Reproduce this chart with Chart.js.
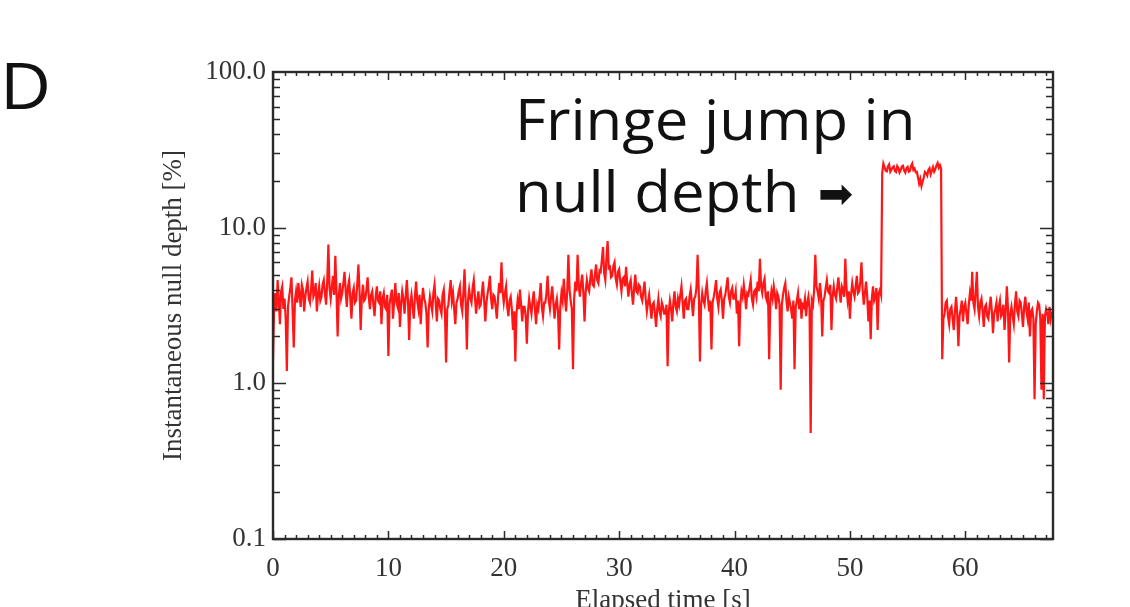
<!DOCTYPE html>
<html><head><meta charset="utf-8">
<script src="https://cdn.jsdelivr.net/npm/chart.js@4.4.1/dist/chart.umd.min.js"></script>
<style>
html,body{margin:0;padding:0;background:#fff;width:1130px;height:607px;overflow:hidden;}
#wrap{position:relative;width:1130px;height:607px;}
canvas{position:absolute;left:0;top:0;}
.lbl{position:absolute;font-family:"Open Sans",sans-serif;color:#111;line-height:1;white-space:nowrap;transform-origin:0 0;}
</style></head><body>
<div id="wrap">
<canvas id="c" width="1130" height="607"></canvas>
<div class="lbl" style="left:0px;top:53px;font-size:64px;transform:scaleX(1.1);">D</div>
<div class="lbl" style="left:515px;top:90px;font-size:56px;transform:scaleX(1.07);">Fringe jump in</div>
<div class="lbl" style="left:515px;top:162px;font-size:56px;transform:scaleX(1.07);">null depth</div>
<div class="lbl" style="left:818px;top:173px;font-size:42px;font-family:'DejaVu Sans';">➡</div>
</div>
<script>
// sampling interval of the trace (s)
const timeStep = 0.1;
// instantaneous null depth [%], one value per sample (20 samples = 2 s per row)
const nullDepth = [
 1.4, 3.2, 3.8, 2.9, 4.6, 3.4, 2.4, 3.9, 4.2, 3.0, 3.5, 2.6, 1.2, 3.1, 3.6, 4.1, 4.8, 2.9, 1.7, 3.4,
 3.9, 3.3, 4.4, 3.7, 3.1, 4.3, 4.0, 2.9, 3.6, 4.1, 4.5, 3.5, 3.3, 4.0, 5.3, 3.6, 3.8, 4.4, 2.9, 3.7,
 4.2, 3.4, 3.6, 4.3, 4.6, 3.8, 3.2, 4.5, 7.8, 4.1, 3.5, 4.2, 4.9, 3.7, 6.6, 4.0, 2.0, 3.6, 4.4, 3.5,
 3.8, 4.4, 5.2, 3.9, 3.1, 4.2, 4.6, 3.5, 2.6, 3.8, 4.1, 3.3, 3.4, 4.3, 5.8, 3.9, 2.2, 3.6, 4.3, 3.4,
 3.5, 4.0, 4.8, 3.6, 3.0, 3.7, 3.9, 3.2, 2.7, 3.6, 4.2, 3.4, 3.3, 3.9, 2.4, 3.5, 3.8, 3.1, 3.0, 3.7,
 1.5, 3.2, 3.6, 4.0, 2.6, 3.4, 4.4, 3.3, 3.1, 3.8, 2.3, 3.2, 3.9, 3.5, 2.8, 3.6, 4.6, 3.4, 1.9, 3.3,
 3.7, 3.1, 2.6, 3.6, 4.5, 3.4, 3.0, 3.7, 2.4, 3.3, 4.1, 3.5, 3.3, 2.8, 1.7, 3.0, 3.6, 3.2, 2.9, 3.8,
 4.3, 3.3, 2.5, 3.5, 3.4, 3.0, 2.8, 3.7, 4.0, 2.9, 1.36, 3.0, 3.2, 3.9, 4.6, 3.4, 3.8, 3.0, 2.4, 3.3,
 3.5, 3.9, 4.2, 3.2, 2.9, 3.8, 5.4, 3.3, 1.65, 3.4, 4.0, 3.5, 3.3, 4.1, 4.6, 3.6, 2.8, 3.4, 3.9, 3.1,
 3.2, 3.8, 4.5, 3.4, 2.5, 3.3, 3.8, 4.2, 4.9, 3.5, 3.0, 3.7, 3.6, 3.1, 2.6, 3.5, 4.4, 3.8, 6.0, 3.9,
 3.3, 3.8, 4.2, 3.1, 2.7, 3.4, 3.6, 3.0, 2.2, 2.9, 1.38, 2.8, 3.4, 3.0, 4.0, 3.2, 2.5, 3.1, 3.1, 2.7,
 1.8, 2.9, 3.5, 3.1, 2.8, 3.4, 3.9, 3.0, 2.4, 3.2, 3.0, 3.6, 4.4, 3.1, 2.7, 3.3, 3.3, 3.8, 4.9, 3.4,
 3.0, 3.6, 4.2, 3.3, 2.6, 3.2, 3.5, 2.9, 1.65, 3.1, 3.8, 3.4, 4.7, 3.6, 2.9, 3.9, 6.7, 4.0, 3.4, 3.0,
 1.23, 3.5, 4.5, 3.9, 6.7, 4.2, 3.6, 4.4, 5.0, 3.8, 2.5, 3.9, 4.6, 4.1, 3.9, 4.7, 5.4, 4.3, 4.2, 5.0,
 5.8, 4.6, 4.4, 5.3, 5.2, 6.2, 7.5, 5.1, 4.6, 6.4, 8.2, 5.5, 5.6, 4.8, 4.9, 5.7, 6.0, 4.7, 4.3, 5.2,
 5.4, 4.5, 3.9, 4.7, 4.8, 4.2, 5.6, 4.4, 3.6, 4.3, 4.6, 3.8, 3.2, 4.1, 5.0, 3.9, 3.8, 4.3, 4.2, 3.6,
 3.4, 3.9, 4.5, 3.5, 2.9, 3.3, 3.7, 3.1, 2.6, 3.2, 3.3, 2.8, 2.3, 3.0, 3.5, 2.9, 2.7, 3.3, 3.1, 2.8,
 2.8, 3.2, 1.29, 2.9, 3.4, 3.0, 2.5, 3.3, 3.9, 3.1, 2.9, 3.5, 3.2, 3.7, 4.2, 3.3, 2.6, 3.4, 3.5, 3.0,
 3.0, 3.6, 4.0, 3.3, 2.7, 3.5, 3.6, 4.1, 6.7, 3.9, 1.38, 3.2, 3.8, 3.4, 3.2, 3.9, 4.4, 3.5, 2.9, 3.4,
 1.65, 3.3, 3.6, 4.0, 4.6, 3.5, 3.1, 3.8, 4.0, 3.4, 2.6, 3.5, 3.7, 4.2, 4.8, 3.6, 3.3, 3.9, 4.1, 3.5,
 3.5, 3.9, 2.8, 3.4, 1.73, 3.2, 3.9, 3.6, 4.3, 3.7, 3.0, 3.8, 3.7, 4.1, 4.6, 3.5, 3.2, 3.9, 4.0, 3.6,
 4.5, 3.9, 6.3, 4.2, 3.8, 4.4, 4.7, 3.6, 3.4, 3.9, 1.43, 3.3, 3.9, 3.5, 4.2, 3.7, 3.0, 3.8, 3.6, 3.2,
 0.91, 3.2, 3.7, 4.1, 4.4, 3.4, 2.9, 3.6, 3.3, 3.0, 2.6, 3.4, 1.23, 3.1, 3.4, 3.8, 3.0, 3.5, 2.6, 3.2,
 3.1, 3.5, 2.7, 3.3, 3.6, 3.0, 0.48, 3.4, 3.2, 4.0, 6.7, 4.2, 3.9, 3.5, 4.4, 3.7, 2.0, 3.4, 3.6, 4.1,
 4.6, 3.9, 3.8, 4.3, 2.2, 3.6, 4.2, 3.7, 3.5, 4.1, 4.8, 3.9, 3.3, 4.2, 4.0, 3.6, 6.3, 4.1, 3.4, 3.9,
 2.6, 3.7, 4.4, 3.9, 3.6, 4.2, 4.9, 3.8, 3.9, 4.5, 6.0, 4.0, 3.2, 3.8, 4.5, 3.6, 2.5, 3.4, 1.92, 3.5,
 4.2, 3.4, 3.6, 4.1, 2.2, 3.8, 4.0, 3.7, 22.5, 25.8, 24.5, 23.2, 23.0, 24.8, 25.5, 22.9, 23.6, 24.4, 24.8, 23.1,
 22.8, 24.9, 24.2, 22.6, 23.4, 24.7, 25.0, 23.3, 22.6, 24.1, 24.6, 22.9, 23.2, 24.9, 25.8, 23.5, 24.0, 22.7, 22.8, 21.0,
 19.2, 20.5, 18.5, 19.8, 21.0, 22.8, 22.4, 21.6, 23.5, 24.1, 22.0, 23.2, 24.5, 22.9, 23.8, 25.1, 26.0, 24.3, 25.2, 24.0,
 1.43, 2.6, 2.8, 3.3, 3.4, 2.7, 2.4, 3.0, 3.1, 2.6, 2.2, 2.9, 3.6, 2.8, 1.73, 2.7, 3.0, 3.4, 2.5, 3.1,
 3.3, 2.8, 2.4, 3.2, 3.8, 3.4, 5.2, 3.3, 3.0, 3.9, 5.2, 3.1, 2.7, 3.3, 3.5, 2.9, 2.3, 3.1, 3.2, 2.7,
 2.6, 3.1, 3.6, 2.9, 2.1, 2.8, 3.0, 3.3, 2.5, 3.1, 3.4, 2.7, 2.8, 3.2, 2.2, 2.9, 4.2, 3.0, 1.36, 2.8,
 3.1, 2.7, 2.4, 3.2, 3.9, 2.9, 2.7, 3.4, 3.3, 2.8, 2.3, 3.1, 3.6, 2.9, 2.6, 3.3, 2.0, 2.9, 3.0, 2.6,
 0.79, 2.4, 2.9, 3.3, 3.2, 2.6, 0.91, 2.8, 0.79, 2.7, 3.0, 2.8, 2.4, 3.1, 2.6, 2.9
];
const xTickValues = [0, 10, 20, 30, 40, 50, 60];
const yTickValues = [0.1, 1, 10, 100];
const yTickLabels = ['0.1', '1.0', '10.0', '100.0'];
const xRange = [0, 67.6];
const yRange = [0.1, 100];

const points = nullDepth.map((v, i) => ({x: Math.round(i * timeStep * 100) / 100, y: v}));

const serif = 'Liberation Serif';
const axisColor = '#2a2a2a';

const framePlugin = {
  id: 'frame',
  afterDraw(chart) {
    const {ctx, chartArea: a, scales: {x, y}} = chart;
    ctx.save();
    ctx.strokeStyle = axisColor;
    ctx.lineWidth = 1.5;
    ctx.beginPath();
    for (let v = Math.ceil(xRange[0]); v <= xRange[1]; v++) {
      const px = Math.round(x.getPixelForValue(v)) + 0.5;
      const L = (v % 10 === 0) ? 8 : 4;
      ctx.moveTo(px, a.bottom); ctx.lineTo(px, a.bottom - L);
      ctx.moveTo(px, a.top); ctx.lineTo(px, a.top + L);
    }
    for (let d = yRange[0]; d < yRange[1] * 0.99; d *= 10) {
      for (let m = 1; m <= 9; m++) {
        const py = Math.round(y.getPixelForValue(d * m)) + 0.5;
        const L = (m === 1) ? 13 : 7;
        ctx.moveTo(a.left, py); ctx.lineTo(a.left + L, py);
        ctx.moveTo(a.right, py); ctx.lineTo(a.right - L, py);
      }
    }
    ctx.stroke();
    ctx.lineWidth = 2.4;
    ctx.strokeRect(a.left, a.top, a.right - a.left, a.bottom - a.top);
    ctx.restore();
  }
};

new Chart(document.getElementById('c'), {
  type: 'line',
  data: {
    datasets: [{
      data: points,
      borderColor: 'rgb(255,22,22)',
      borderWidth: 2.2,
      pointRadius: 0,
      tension: 0,
      fill: false
    }]
  },
  options: {
    responsive: false,
    animation: false,
    devicePixelRatio: 1,
    layout: {padding: {left: 158, right: 77, top: 72, bottom: 0}},
    plugins: {legend: {display: false}, tooltip: {enabled: false}},
    scales: {
      x: {
        type: 'linear', min: xRange[0], max: xRange[1],
        grid: {display: false, drawTicks: false}, border: {display: false},
        afterBuildTicks: s => { s.ticks = xTickValues.map(v => ({value: v})); },
        ticks: {font: {family: serif, size: 27}, color: '#333', padding: 14, maxRotation: 0, autoSkip: false,
                callback: v => String(v)},
        title: {display: true, text: 'Elapsed time [s]', font: {family: serif, size: 27, lineHeight: 0.45},
                color: '#333', padding: 0},
        afterFit: s => { s.height = 68; }
      },
      y: {
        type: 'logarithmic', min: yRange[0], max: yRange[1],
        grid: {display: false, drawTicks: false}, border: {display: false},
        afterBuildTicks: s => { s.ticks = yTickValues.map(v => ({value: v})); },
        ticks: {font: {family: serif, size: 27}, color: '#333', padding: 7, autoSkip: false,
                callback: (v) => yTickLabels[yTickValues.indexOf(v)] ?? ''},
        title: {display: true, text: 'Instantaneous null depth [%]', font: {family: serif, size: 27},
                color: '#333', padding: 0},
        afterFit: s => { s.width = 273 - 158; }
      }
    }
  },
  plugins: [framePlugin]
});
</script>
</body></html>
